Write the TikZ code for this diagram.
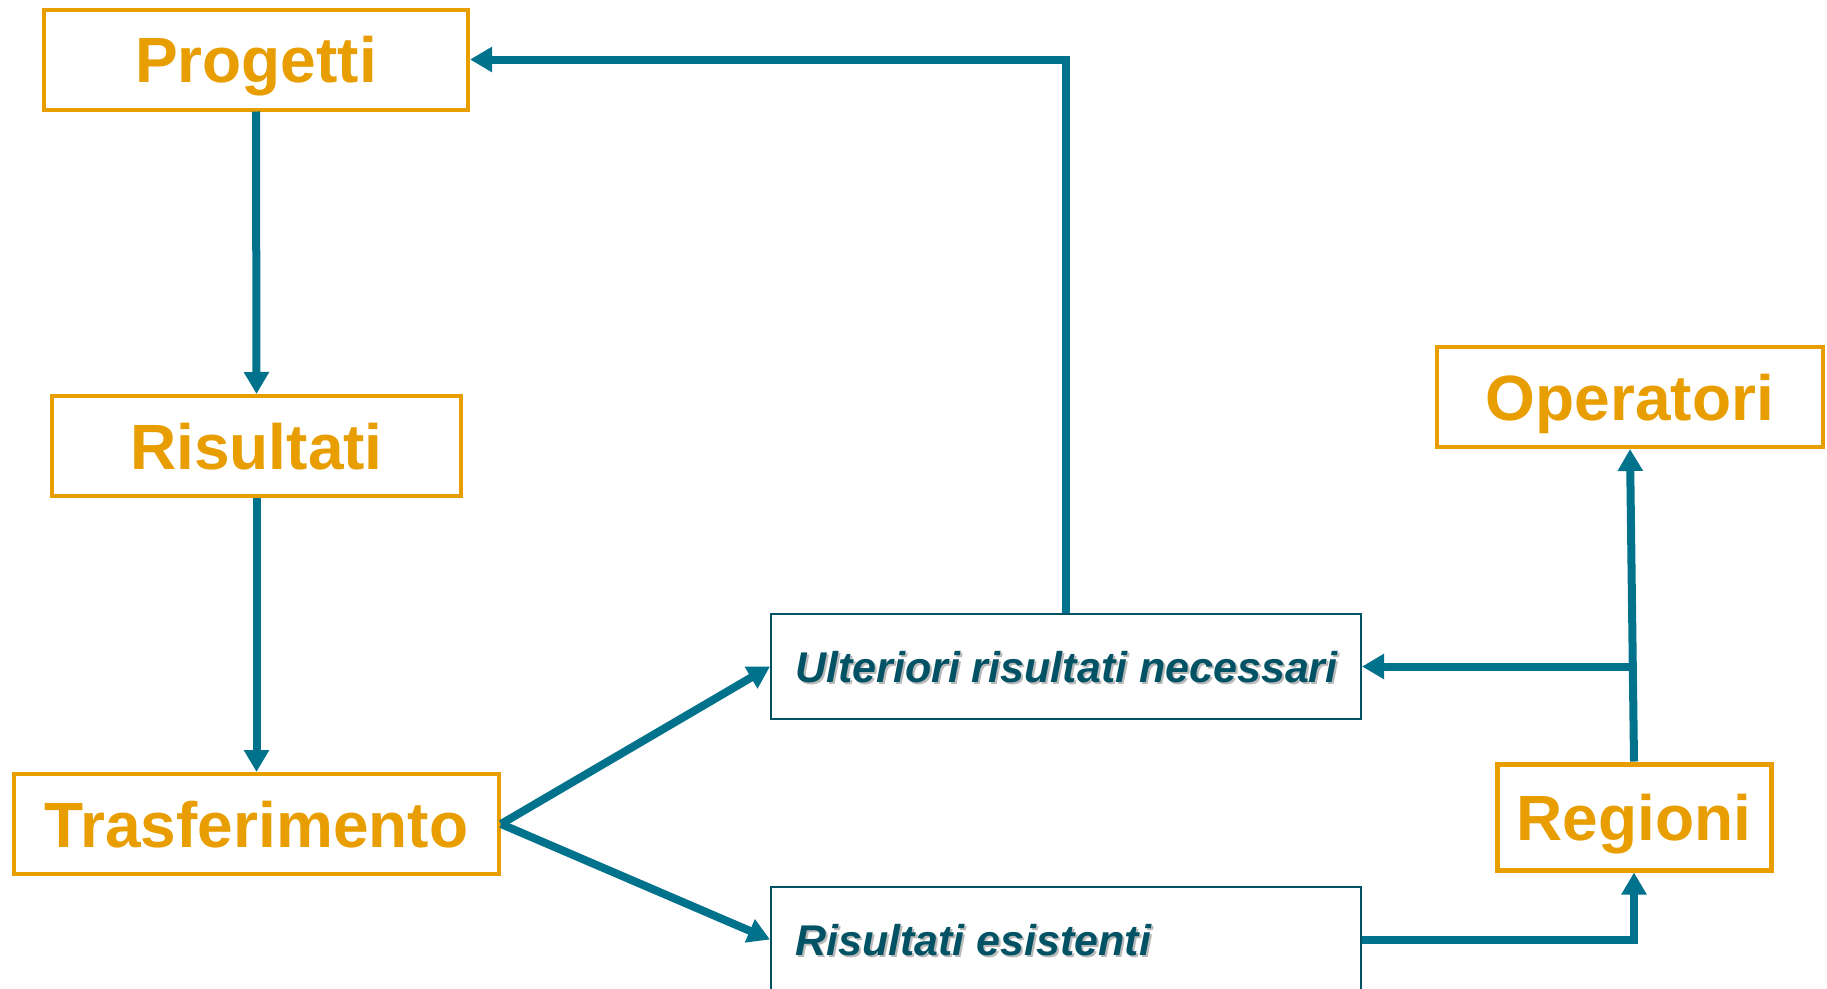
\documentclass[tikz,border=0pt]{standalone}
\usepackage{fontspec}
\setmainfont{Liberation Sans}
\usetikzlibrary{arrows.meta}
\definecolor{orng}{RGB}{232,157,0}
\definecolor{tealline}{RGB}{0,114,140}
\definecolor{tealtext}{RGB}{0,82,100}
\definecolor{shadowgray}{RGB}{185,185,185}
\tikzset{
  obox/.style={draw=orng, line width=4pt, text=orng, font=\fontsize{64}{70}\selectfont\bfseries, inner sep=0pt, minimum height=100pt, text height=46pt, text depth=0pt},
  tbox/.style={draw=tealtext, line width=2pt, inner sep=0pt, minimum width=590pt, minimum height=105pt},
  itext/.style={font=\fontsize{43}{48}\selectfont\bfseries\itshape, inner sep=0pt, anchor=west, text height=31pt, text depth=0pt},
  conn/.style={draw=tealline, line width=8pt, -{Triangle[length=22pt,width=24pt]}}
}
\begin{document}
\begin{tikzpicture}[x=1pt,y=-1pt]
\useasboundingbox (0,0) rectangle (1827,988);
\clip (0,0) rectangle (1827,988);
\fill[white] (0,0) rectangle (1827,988);

% orange boxes
\node[obox, minimum width=424pt] (P) at (256,59.5) {Progetti};
\node[obox, minimum width=409pt] (R) at (256.5,446) {Risultati};
\node[obox, minimum width=485pt] (T) at (256.5,824) {Trasferimento};
\node[obox, minimum width=386pt] (O) at (1630,397) {Operatori};
\node[obox, line width=5pt, minimum width=274pt, minimum height=106pt] (G) at (1634,817) {Regioni};

% teal boxes
\node[tbox] (U) at (1066,666.5) {};
\node[tbox] (E) at (1066,939.5) {};
\node[itext, text=shadowgray] (Us) at ([xshift=27pt,yshift=-2.5pt]U.west) {Ulteriori risultati necessari};
\node[itext, text=tealtext] (Ut) at ([xshift=25pt]U.west) {Ulteriori risultati necessari};
\node[itext, text=shadowgray] (Es) at ([xshift=27pt,yshift=-2.5pt]E.west) {Risultati esistenti};
\node[itext, text=tealtext] (Et) at ([xshift=25pt]E.west) {Risultati esistenti};

% connectors
\draw[conn] (P.south) -- (R.north);
\draw[conn] (R.south) -- (T.north);
\draw[conn] (T.east) -- (U.west);
\draw[conn] (T.east) -- (E.west);
\draw[conn] (U.north) |- (P.east);
\draw[conn] (G.north) -- (O.south);
\coordinate (J) at ([xshift=-0.5pt]G.north |- U.east);
\draw[conn] (J) -- (U.east);
\draw[conn] (E.east) -| (G.south);
\end{tikzpicture}
\end{document}
